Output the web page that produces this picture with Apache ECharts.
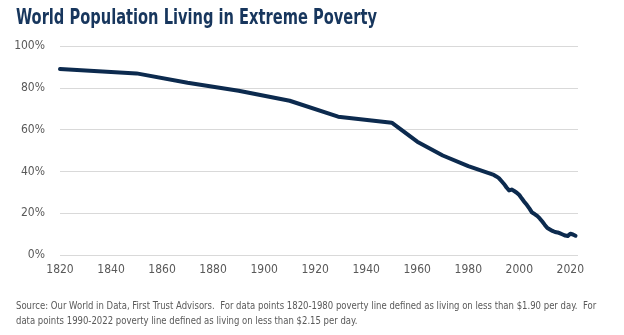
<!DOCTYPE html>
<html>
<head>
<meta charset="utf-8">
<script src="https://cdn.jsdelivr.net/npm/echarts@6/dist/echarts.min.js"></script>
<style>
  html, body { margin: 0; padding: 0; background: #fff; }
  #chart { width: 624px; height: 335px; }
</style>
</head>
<body>
<div id="chart"></div>
<script>
// Share of world population living in extreme poverty, by year
const years = [1820, 1850, 1870, 1890, 1910, 1929, 1950, 1960, 1970, 1980,
  1990, 1991, 1992, 1993, 1994, 1995, 1996, 1997, 1998, 1999,
  2000, 2001, 2002, 2003, 2004, 2005, 2006, 2007, 2008, 2009,
  2010, 2011, 2012, 2013, 2014, 2015, 2016, 2017, 2018, 2019,
  2020, 2021, 2022];
const povertyShare = [89.0, 86.9, 82.4, 78.6, 73.8, 66.2, 63.3, 54.2, 47.6, 42.5,
  38.3, 37.6, 36.8, 35.4, 34.0, 32.3, 30.9, 31.3, 30.6, 29.8,
  28.7, 27.0, 25.4, 23.9, 22.2, 20.3, 19.6, 18.7, 17.5, 16.0,
  14.4, 12.9, 12.2, 11.5, 11.0, 10.8, 10.3, 9.8, 9.3, 9.1,
  10.2, 9.8, 9.2];
const yTicks = [0, 20, 40, 60, 80, 100];

const titleText = 'World Population Living in Extreme Poverty';
const sourceLines = [
  'Source: Our World in Data, First Trust Advisors.  For data points 1820-1980 poverty line defined as living on less than $1.90 per day.  For',
  'data points 1990-2022 poverty line defined as living on less than $2.15 per day.'
];

const narrow = '"DejaVu Sans Condensed", "Liberation Sans Narrow", "Noto Sans", sans-serif';

const chart = echarts.init(document.getElementById('chart'), null, { renderer: 'canvas' });

// Condensed text blocks, squeezed horizontally from their left edge
const titleGraphic = {
  type: 'text',
  x: 16,
  y: 8,
  scaleX: 0.775,
  style: {
    text: titleText,
    fill: '#17365d',
    font: 'bold 21px ' + narrow,
    align: 'left',
    verticalAlign: 'top'
  }
};
const sourceGraphics = sourceLines.map((t, i) => ({
  type: 'text',
  x: 16,
  y: 301 + i * 15,
  scaleX: 0.86,
  style: {
    text: t,
    fill: '#595959',
    font: '11px ' + narrow,
    align: 'left',
    verticalAlign: 'top'
  }
}));

chart.setOption({
  animation: false,
  backgroundColor: '#ffffff',
  grid: { left: 60, right: 46, top: 46, bottom: 80, containLabel: false },
  xAxis: {
    type: 'value',
    min: 1820,
    max: 2023,
    interval: 20,
    axisLine: { show: false },
    axisTick: { show: false },
    splitLine: { show: false },
    axisLabel: {
      margin: 9,
      color: '#595959',
      fontFamily: narrow,
      fontSize: 12,
      showMaxLabel: false,
      formatter: v => (v % 20 === 0 ? String(v) : '')
    }
  },
  yAxis: {
    type: 'value',
    min: yTicks[0],
    max: yTicks[yTicks.length - 1],
    interval: 20,
    axisLine: { show: false },
    axisTick: { show: false },
    splitLine: { lineStyle: { color: '#d9d9d9', width: 1 } },
    axisLabel: {
      margin: 15,
      color: '#595959',
      fontFamily: narrow,
      fontSize: 12,
      formatter: '{value}%'
    }
  },
  series: [{
    type: 'line',
    data: years.map((y, i) => [y, povertyShare[i]]),
    showSymbol: false,
    lineStyle: { color: '#0c2a4e', width: 4, join: 'round', cap: 'round' }
  }],
  graphic: [titleGraphic].concat(sourceGraphics)
});
</script>
</body>
</html>
